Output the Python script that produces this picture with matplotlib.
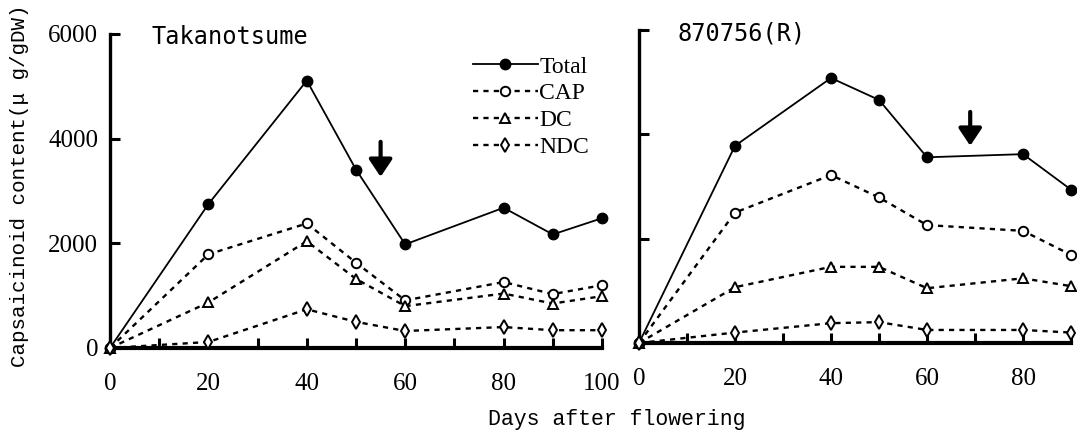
import matplotlib
matplotlib.use("Agg")
import matplotlib.pyplot as plt

# ---- data ----
days_left = [0, 20, 40, 50, 60, 80, 90, 100]
total_left = [0, 2750, 5110, 3410, 1980, 2680, 2170, 2480]
cap_left = [0, 1790, 2380, 1630, 910, 1260, 1030, 1200]
dc_left = [0, 870, 2040, 1320, 800, 1040, 850, 990]
ndc_left = [0, 115, 740, 500, 325, 400, 340, 340]

days_right = [0, 20, 40, 50, 60, 80, 90]
total_right = [0, 3780, 5080, 4660, 3560, 3620, 2940]
cap_right = [0, 2500, 3220, 2790, 2260, 2150, 1690]
dc_right = [0, 1070, 1460, 1460, 1050, 1240, 1090]
ndc_right = [0, 200, 380, 400, 250, 250, 200]

arrow_left = (55, 3940, 3270)   # x, y_start, y_end
arrow_right = (69, 4430, 3780)

series_labels = ["Total", "CAP", "DC", "NDC"]
titles = ["Takanotsume", "870756(R)"]
xlabel = "Days after flowering"
ylabel = "Capsaicinoid content(μ g/gDW)"
yticks = [0, 2000, 4000, 6000]

W, H = 1077, 432
fig = plt.figure(figsize=(W / 100, H / 100), dpi=100)

ax1 = fig.add_axes([110 / W, (H - 348) / H, 492 / W, 314 / H])
ax2 = fig.add_axes([639 / W, (H - 343) / H, 432 / W, 313 / H])

dot = (0, (2.2, 2.2))
styles = [
    dict(ls="-", marker="o", mfc="black", mec="black", ms=7.5, lw=1.3),
    dict(ls=dot, marker="o", mfc="white", mec="black", ms=6.8, mew=1.4, lw=1.7),
    dict(ls=dot, marker="^", mfc="white", mec="black", ms=6.8, mew=1.4, lw=1.7),
    dict(ls=dot, marker="d", mfc="white", mec="black", ms=7.0, mew=1.4, lw=1.7),
]

def draw(ax, days, data, xmax, title, title_pos, arrow):
    for vals, st, lab in zip(data, styles, series_labels):
        ax.plot(days, vals, color="black", clip_on=False, label=lab, zorder=3, **st)
    ax.set_xlim(0, xmax)
    ax.set_ylim(0, 6000)
    for s in ["top", "right"]:
        ax.spines[s].set_visible(False)
    ax.spines["bottom"].set_linewidth(3)
    ax.spines["left"].set_linewidth(2.4)
    ax.set_xticks(list(range(0, xmax + 1, 10)))
    ax.set_xticklabels([str(v) if v % 20 == 0 else "" for v in range(0, xmax + 1, 10)])
    ax.tick_params(axis="x", direction="in", length=7, width=2.2, pad=18,
                   labelsize=18)
    ax.set_yticks(yticks)
    ax.tick_params(axis="y", direction="in", length=7, width=2.2, pad=8.5,
                   labelsize=18)
    for lbl in ax.get_xticklabels() + ax.get_yticklabels():
        lbl.set_fontfamily("Liberation Serif")
    ax.text(title_pos[0], title_pos[1], title, transform=ax.transAxes,
            fontsize=17, family="DejaVu Sans Mono", va="center", ha="left")
    ax.annotate("", xy=(arrow[0], arrow[2]), xytext=(arrow[0], arrow[1]),
                arrowprops=dict(arrowstyle="-|>,head_width=0.7,head_length=1.05",
                                color="black", lw=3.0, shrinkA=0, shrinkB=0))
    ax.set_facecolor("none")

draw(ax1, days_left, [total_left, cap_left, dc_left, ndc_left], 100,
     titles[0], (0.085, 0.99), arrow_left)
draw(ax2, days_right, [total_right, cap_right, dc_right, ndc_right], 90,
     titles[1], (0.09, 0.99), arrow_right)
ax2.set_yticklabels([])

leg = ax1.legend(loc="upper left", bbox_to_anchor=(473 / W, 1 - 56 / H),
                 bbox_transform=fig.transFigure, frameon=False,
                 handlelength=2.75, handletextpad=0.05, labelspacing=0.23,
                 borderpad=0, borderaxespad=0,
                 prop={"family": "Liberation Serif", "size": 17})

fig.text(20 / W, 1 - 186 / H, ylabel, rotation=90, ha="center", va="center",
         fontsize=15, family="Liberation Mono")
fig.text(617 / W, 1 - 419 / H, xlabel, ha="center", va="center",
         fontsize=15.5, family="Liberation Mono")

fig.savefig("out.png", dpi=100, facecolor="white")
